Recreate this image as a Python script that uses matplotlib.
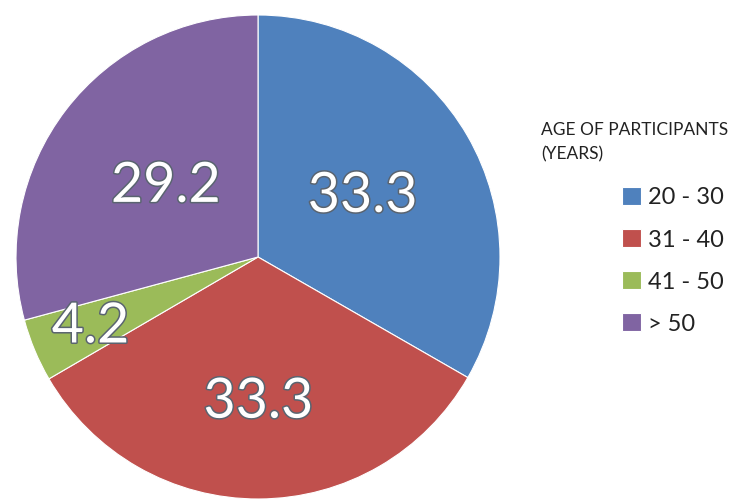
import matplotlib.pyplot as plt
import matplotlib.patheffects as pe
import numpy as np

# данные из диаграммы
groups = ['20 - 30', '31 - 40', '41 - 50', '> 50']
shares = [33.3, 33.3, 4.2, 29.2]
colors = ['#4F81BD', '#C0504D', '#9BBB59', '#8064A2']
label_dist = [0.50, 0.60, 0.75, 0.48]

plt.rcParams['font.family'] = ['Lato', 'DejaVu Sans']

W, H = 731, 500
fig = plt.figure(figsize=(W / 100, H / 100), dpi=100)
# круг: центр (258, 257), радиус 242 px
cx, cy, r = 258, 257, 242
ax = fig.add_axes([(cx - r) / W, (H - cy - r) / H, 2 * r / W, 2 * r / H])

wedges, _ = ax.pie(shares, colors=colors, startangle=90, counterclock=False,
                   radius=1, wedgeprops=dict(edgecolor='white', linewidth=0.8))
ax.set_xlim(-1, 1)
ax.set_ylim(-1, 1)
ax.set_aspect('equal')
ax.axis('off')

for w, val, d in zip(wedges, shares, label_dist):
    ang = np.deg2rad((w.theta1 + w.theta2) / 2)
    ax.text(d * np.cos(ang), d * np.sin(ang), f'{val:.1f}', ha='center', va='center',
            fontsize=40, color='white',
            path_effects=[pe.withStroke(linewidth=2.2, foreground='#5a6470')])

fig.text(541 / W, 1 - 122 / H, 'AGE OF PARTICIPANTS\n(YEARS)', ha='left', va='top',
         fontsize=12.5, color='#222222', linespacing=1.65)

leg = fig.legend(wedges, groups, loc='upper left', bbox_to_anchor=(601 / W, 1 - 166 / H),
                 frameon=False, fontsize=17, handlelength=0.8, handleheight=0.8,
                 handletextpad=0.3, labelspacing=0.88)
for t in leg.get_texts():
    t.set_color('#222222')

fig.savefig('out.png', dpi=100)
